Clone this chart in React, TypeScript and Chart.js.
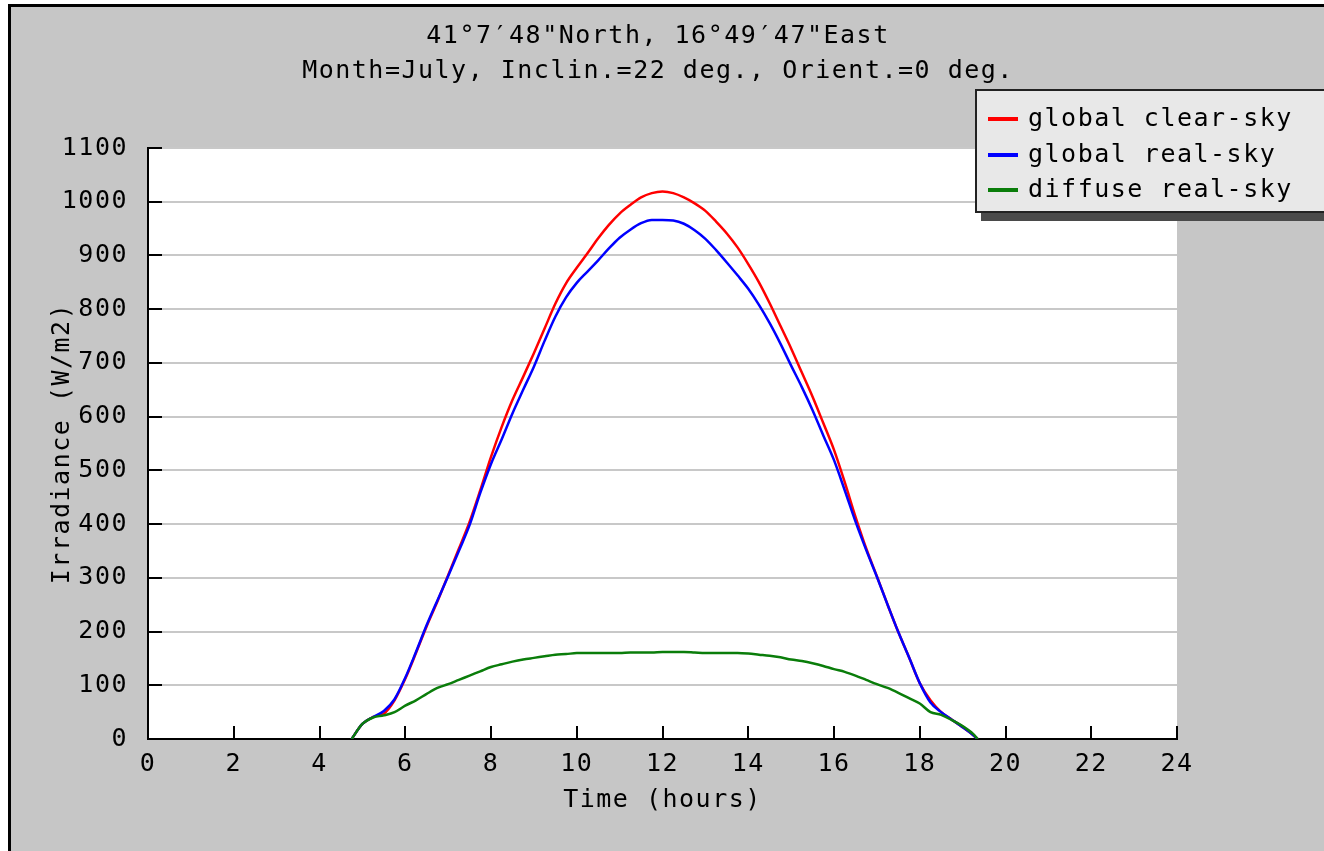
import React, { useEffect, useRef } from "react";
import { Chart, registerables } from "chart.js";

Chart.register(...registerables);

const hours = [
  4.75, 5.0, 5.25, 5.5, 5.75, 6.0, 6.25, 6.5, 6.75, 7.0, 7.25, 7.5, 7.75, 8.0, 8.25, 8.5, 8.75, 9.0, 9.25, 9.5,
  9.75, 10.0, 10.25, 10.5, 10.75, 11.0, 11.25, 11.5, 11.75, 12.0, 12.25, 12.5, 12.75, 13.0, 13.25, 13.5, 13.75,
  14.0, 14.25, 14.5, 14.75, 15.0, 15.25, 15.5, 15.75, 16.0, 16.25, 16.5, 16.75, 17.0, 17.25, 17.5, 17.75, 18.0,
  18.25, 18.5, 18.75, 19.0, 19.25, 19.35,
];

const globalClearSky = [
  0, 28, 41, 47, 72, 112, 160, 210, 256, 305, 354, 404, 463, 525, 581, 631, 674, 718, 764, 810,
  848, 877, 904, 932, 957, 978, 994, 1008, 1016, 1019, 1016, 1008, 997, 983, 963, 941, 915,
  884, 850, 811, 769, 727, 682, 637, 588, 538, 478, 414, 355, 303, 250, 199, 152, 104,
  72, 50, 36, 22, 7, 0,
];

const globalRealSky = [
  0, 28, 41, 52, 74, 114, 162, 212, 258, 303, 350, 398, 458, 512, 558, 606, 650, 693, 741, 786,
  822, 849, 870, 891, 913, 933, 948, 960, 966, 966, 965, 959, 947, 931, 910, 887, 863,
  838, 808, 774, 736, 695, 655, 612, 565, 519, 463, 405, 352, 302, 250, 199, 152, 104,
  68, 50, 36, 22, 7, 0,
];

const diffuseRealSky = [
  0, 28, 40, 44, 50, 62, 72, 84, 95, 102, 110, 118, 126, 134, 139, 144, 148, 151, 154, 157,
  158, 160, 160, 160, 160, 160, 161, 161, 161, 162, 162, 162, 161, 160, 160, 160, 160,
  159, 157, 155, 152, 148, 145, 141, 136, 130, 125, 118, 110, 102, 95, 86, 76, 66,
  50, 45, 35, 24, 9, 0,
];

const seriesLabels = ["global clear-sky", "global real-sky", "diffuse real-sky"];
const seriesColors = ["#ff0000", "#0000ff", "#0a7d0a"];
const titleLines = ["41°7′48\"North, 16°49′47\"East", "Month=July, Inclin.=22 deg., Orient.=0 deg."];
const xTitle = "Time (hours)";
const yTitle = "Irradiance (W/m2)";

const FONT = '25px "DejaVu Sans Mono", monospace';
const SPACING = "1.5px";

const toPoints = (ys: number[]) => ys.map((y, i) => ({ x: hours[i], y }));

export default function App() {
  const ref = useRef<HTMLCanvasElement | null>(null);

  useEffect(() => {
    const canvas = ref.current;
    if (!canvas) return;

    const decor = {
      id: "decor",
      beforeDraw(chart: any) {
        const { ctx, width, height, chartArea } = chart;
        ctx.save();
        ctx.fillStyle = "#ffffff";
        ctx.fillRect(0, 0, width, height);
        ctx.fillStyle = "#c6c6c6";
        ctx.fillRect(8, 4, width, height);
        ctx.fillStyle = "#000000";
        ctx.fillRect(8, 4, 3, height);
        ctx.fillRect(8, 4, width, 3);
        ctx.fillStyle = "#ffffff";
        ctx.fillRect(chartArea.left, chartArea.top, chartArea.right - chartArea.left, chartArea.bottom - chartArea.top);
        ctx.restore();
        (ctx as any).letterSpacing = SPACING;
      },
      afterDatasetsDraw(chart: any) {
        const { ctx, chartArea } = chart;
        const xs = chart.scales.x;
        const ys = chart.scales.y;
        ctx.save();
        ctx.strokeStyle = "#000";
        ctx.lineWidth = 2;
        ctx.beginPath();
        xs.ticks.forEach((t: any) => {
          const px = Math.round(xs.getPixelForValue(t.value));
          ctx.moveTo(px, chartArea.bottom);
          ctx.lineTo(px, chartArea.bottom - 13);
        });
        ys.ticks.forEach((t: any) => {
          const py = Math.round(ys.getPixelForValue(t.value));
          ctx.moveTo(chartArea.left, py);
          ctx.lineTo(chartArea.left + 14, py);
        });
        ctx.stroke();
        ctx.restore();
      },
      afterDraw(chart: any) {
        const { ctx, chartArea } = chart;
        ctx.save();
        (ctx as any).letterSpacing = SPACING;
        ctx.font = FONT;
        ctx.fillStyle = "#000";
        ctx.textBaseline = "middle";
        ctx.textAlign = "center";
        ctx.fillText(titleLines[0], 658, 36);
        ctx.fillText(titleLines[1], 658, 71);
        ctx.fillText(xTitle, (chartArea.left + chartArea.right) / 2, 800);
        ctx.save();
        ctx.translate(62, (chartArea.top + chartArea.bottom) / 2);
        ctx.rotate(-Math.PI / 2);
        ctx.fillText(yTitle, 0, 0);
        ctx.restore();

        // legend
        ctx.fillStyle = "#4a4a4a";
        ctx.fillRect(981, 97, 360, 124);
        ctx.fillStyle = "#e8e8e8";
        ctx.fillRect(976, 90, 360, 122);
        ctx.strokeStyle = "#222";
        ctx.lineWidth = 2;
        ctx.strokeRect(976, 90, 360, 122);
        const rows = [119, 155, 190];
        ctx.textAlign = "left";
        rows.forEach((ry, i) => {
          ctx.strokeStyle = seriesColors[i];
          ctx.lineWidth = 4;
          ctx.beginPath();
          ctx.moveTo(988, ry);
          ctx.lineTo(1018, ry);
          ctx.stroke();
          ctx.fillStyle = "#000";
          ctx.fillText(seriesLabels[i], 1028, ry);
        });
        ctx.restore();
      },
    };

    const datasets = [globalClearSky, globalRealSky, diffuseRealSky].map((vals, i) => ({
      label: seriesLabels[i],
      data: toPoints(vals),
      borderColor: seriesColors[i],
      backgroundColor: seriesColors[i],
      borderWidth: 2.5,
      pointRadius: 0,
      cubicInterpolationMode: "monotone" as const,
      fill: false,
      order: 2 - i,
    }));

    const tickFont = { family: '"DejaVu Sans Mono", monospace', size: 25 };

    const chart = new Chart(canvas, {
      type: "line",
      data: { datasets },
      options: {
        animation: false,
        responsive: false,
        devicePixelRatio: 1,
        layout: { padding: { left: 0, top: 148, right: 147, bottom: 0 } },
        plugins: { legend: { display: false }, title: { display: false }, tooltip: { enabled: false } },
        scales: {
          x: {
            type: "linear",
            min: 0,
            max: 24,
            afterFit: (s: any) => {
              s.height = 112;
            },
            ticks: {
              stepSize: 2,
              color: "#000",
              font: tickFont,
              padding: 10,
              maxRotation: 0,
              autoSkip: false,
              callback: (v: any) => String(v),
            },
            grid: { display: false, drawTicks: false },
            border: { display: true, color: "#000", width: 2 },
          },
          y: {
            type: "linear",
            min: 0,
            max: 1100,
            afterFit: (s: any) => {
              s.width = 148;
            },
            ticks: {
              stepSize: 100,
              color: "#000",
              font: tickFont,
              padding: 20,
              autoSkip: false,
              callback: (v: any) => String(v),
            },
            grid: { display: true, drawTicks: false, color: "#c8c8c8", lineWidth: 2 },
            border: { display: true, color: "#000", width: 2 },
          },
        },
      },
      plugins: [decor],
    });

    return () => chart.destroy();
  }, []);

  return (
    <div style={{ position: "fixed", left: 0, top: 0, width: 1324, height: 851 }}>
      <canvas ref={ref} width={1324} height={851} style={{ display: "block", width: 1324, height: 851 }} />
    </div>
  );
}
